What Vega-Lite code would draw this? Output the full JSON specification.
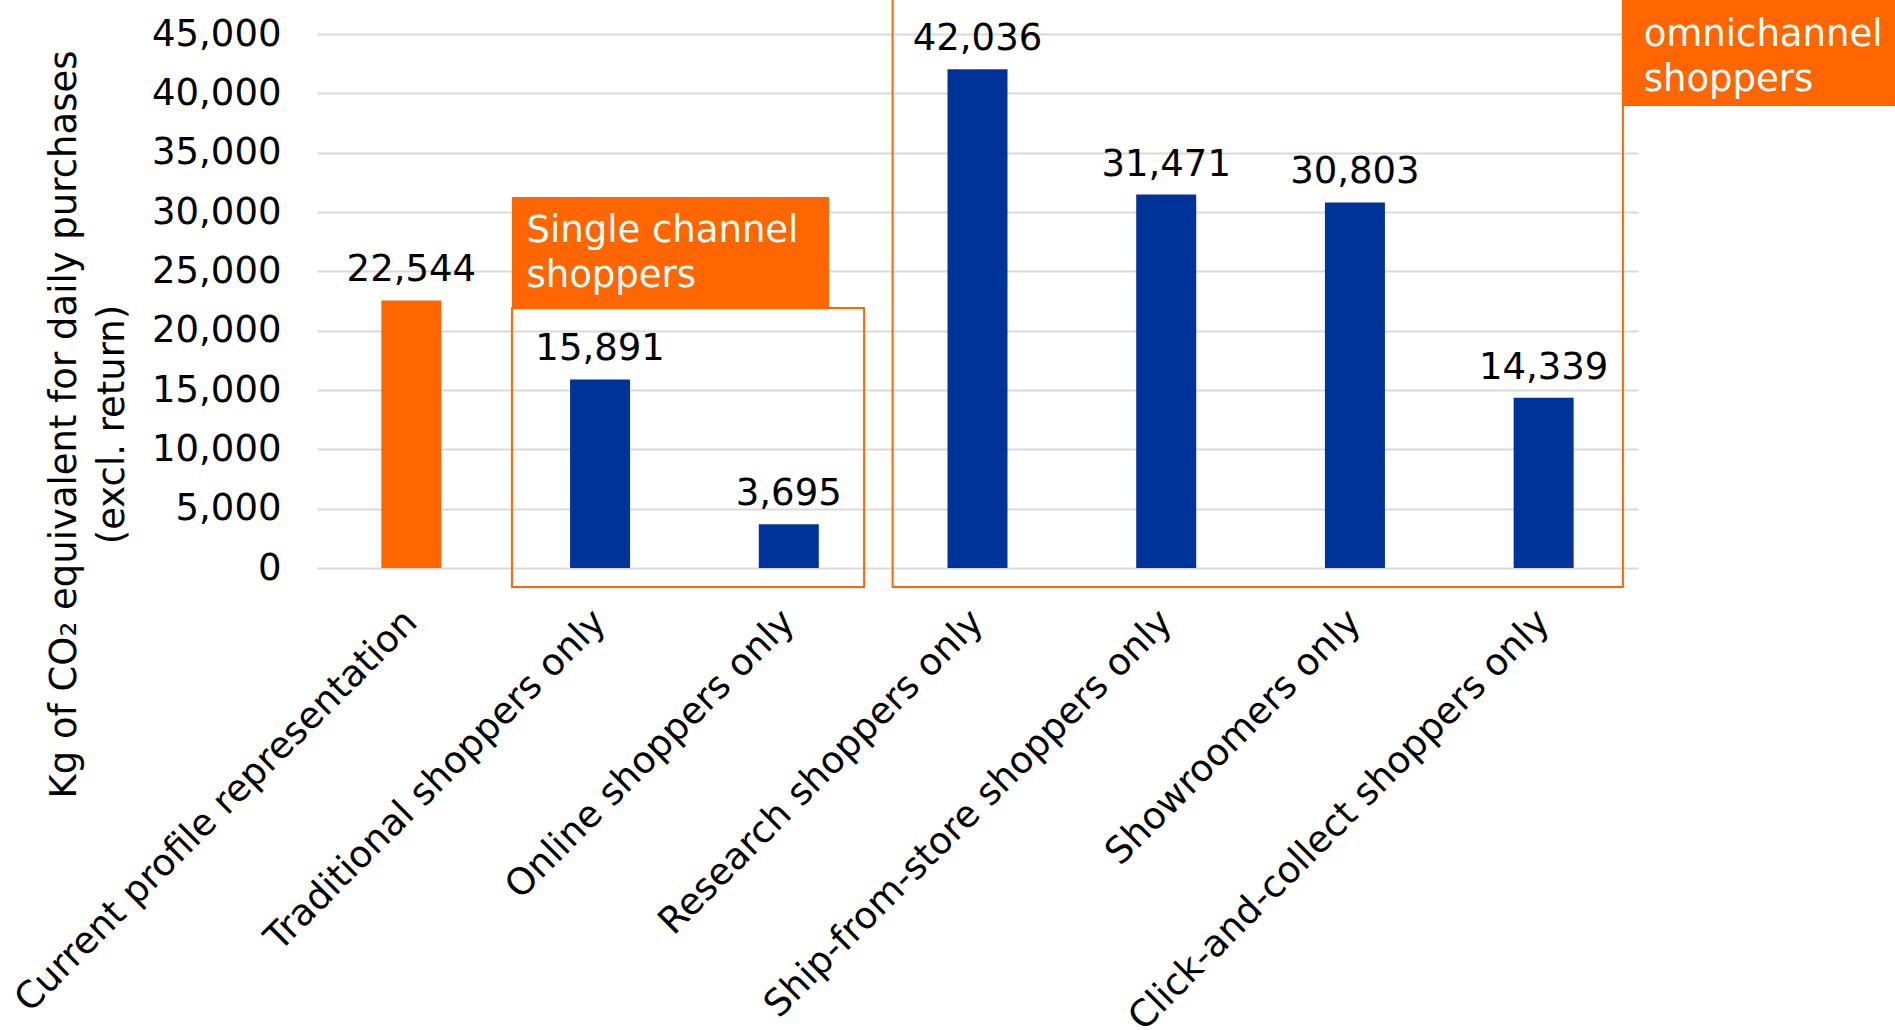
{
  "$schema": "https://vega.github.io/schema/vega-lite/v6.json",
  "width": 1321,
  "height": 534,
  "autosize": {"type": "none"},
  "padding": {"left": 317, "top": 34, "right": 257, "bottom": 462},
  "config": {
    "font": "DejaVu Sans", "view": {"stroke": null},
    "axisY": {
      "format": ",.0f", "labelFontSize": 37, "labelColor": "black", "labelPadding": 36,
      "ticks": false, "domain": false, "gridColor": "#d9d9d9", "gridWidth": 2, "tickCount": 9,
      "titleFontSize": 37, "titleFontWeight": "normal", "titleColor": "black",
      "titleAngle": -90, "titleAlign": "center", "titleBaseline": "middle",
      "titleLineHeight": 48, "titleX": -253, "titleY": 390
    }
  },
  "datasets": {
    "bars": [
      {"category": "Current profile representation", "value": 22544, "group": "current"},
      {"category": "Traditional shoppers only", "value": 15891, "group": "segment"},
      {"category": "Online shoppers only", "value": 3695, "group": "segment"},
      {"category": "Research shoppers only", "value": 42036, "group": "segment"},
      {"category": "Ship-from-store shoppers only", "value": 31471, "group": "segment"},
      {"category": "Showroomers only", "value": 30803, "group": "segment"},
      {"category": "Click-and-collect shoppers only", "value": 14339, "group": "segment"}
    ],
    "boxes": [
      {"name": "single", "x": 1.033, "x2": 2.899, "value": 21910, "value2": -1601},
      {"name": "omni", "x": 3.05, "x2": 6.92, "value": 49500, "value2": -1601}
    ],
    "tags": [
      {"name": "single", "x": 1.033, "x2": 2.713, "value": 31264, "value2": 21910, "label": "Single channel\nshoppers", "tx": 1.11, "ty": 28400},
      {"name": "omni", "x": 6.92, "x2": 8.6, "value": 49500, "value2": 38933, "label": "omnichannel\nshoppers", "tx": 7.03, "ty": 44900}
    ]
  },
  "layer": [
    {
      "data": {"name": "bars"},
      "mark": {"type": "bar", "size": 60},
      "encoding": {
        "x": {
          "field": "category", "type": "nominal", "sort": null,
          "scale": {"paddingInner": 0, "paddingOuter": 0},
          "axis": {
            "title": null, "labelAngle": -45, "labelFontSize": 37, "labelColor": "black",
            "labelPadding": 48, "ticks": false, "domain": false, "labelAlign": "right",
            "labelBaseline": "middle", "labelLimit": 0
          }
        },
        "y": {
          "field": "value", "type": "quantitative",
          "scale": {"domain": [0, 45000], "nice": false},
          "axis": {"title": ["Kg of CO₂ equivalent for daily purchases", "(excl. return)"], "format": ",.0f", "tickCount": 9}
        },
        "color": {
          "field": "group", "type": "nominal",
          "scale": {"domain": ["current", "segment"], "range": ["#ff6600", "#003399"]},
          "legend": null
        }
      }
    },
    {
      "data": {"name": "bars"},
      "mark": {"type": "text", "baseline": "alphabetic", "dy": -19, "fontSize": 37, "color": "black"},
      "encoding": {
        "x": {"field": "category", "type": "nominal", "sort": null, "scale": {"paddingInner": 0, "paddingOuter": 0}, "axis": null},
        "y": {"field": "value", "type": "quantitative", "scale": {"domain": [0, 45000], "nice": false}, "axis": {"title": ["Kg of CO₂ equivalent for daily purchases", "(excl. return)"], "format": ",.0f", "tickCount": 9}},
        "text": {"field": "value", "type": "quantitative", "format": ","}
      }
    },
    {
      "data": {"name": "boxes"},
      "mark": {"type": "rect", "filled": false, "stroke": "#ff6600", "strokeWidth": 2},
      "encoding": {
        "x": {"field": "x", "type": "quantitative", "scale": {"domain": [0, 7], "nice": false, "zero": false}, "axis": null},
        "x2": {"field": "x2"},
        "y": {"field": "value", "type": "quantitative", "scale": {"domain": [0, 45000], "nice": false}, "axis": {"title": ["Kg of CO₂ equivalent for daily purchases", "(excl. return)"], "format": ",.0f", "tickCount": 9}},
        "y2": {"field": "value2"}
      }
    },
    {
      "data": {"name": "tags"},
      "mark": {"type": "rect", "color": "#ff6600"},
      "encoding": {
        "x": {"field": "x", "type": "quantitative", "scale": {"domain": [0, 7], "nice": false, "zero": false}, "axis": null},
        "x2": {"field": "x2"},
        "y": {"field": "value", "type": "quantitative", "scale": {"domain": [0, 45000], "nice": false}, "axis": {"title": ["Kg of CO₂ equivalent for daily purchases", "(excl. return)"], "format": ",.0f", "tickCount": 9}},
        "y2": {"field": "value2"}
      }
    },
    {
      "data": {"name": "tags"},
      "mark": {"type": "text", "color": "white", "fontSize": 37, "align": "left", "baseline": "middle", "lineBreak": "\n", "lineHeight": 45},
      "encoding": {
        "x": {"field": "tx", "type": "quantitative", "scale": {"domain": [0, 7], "nice": false, "zero": false}, "axis": null},
        "y": {"field": "ty", "type": "quantitative", "scale": {"domain": [0, 45000], "nice": false}, "axis": {"title": ["Kg of CO₂ equivalent for daily purchases", "(excl. return)"], "format": ",.0f", "tickCount": 9}},
        "text": {"field": "label"}
      }
    }
  ],
  "resolve": {"scale": {"x": "independent"}}
}
